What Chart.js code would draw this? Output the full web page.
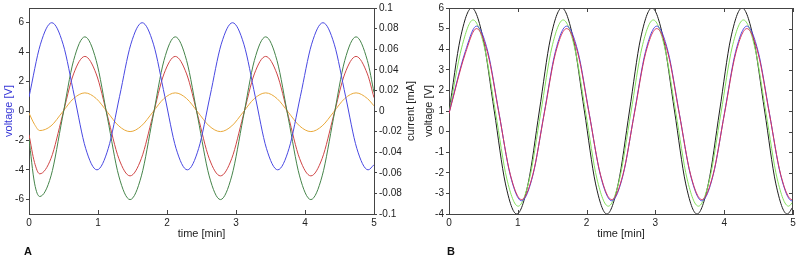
<!DOCTYPE html>
<html>
<head>
<meta charset="utf-8">
<script src="https://cdn.jsdelivr.net/npm/chart.js@4.4.1/dist/chart.umd.min.js"></script>
<style>
  html, body { margin: 0; padding: 0; background: #fff; }
  #wrap { position: relative; width: 800px; height: 259px; overflow: hidden; }
  canvas { position: absolute; top: 0; }
  #chartA { left: 0; }
  #chartB { left: 420px; }
  .panel-tag { position: absolute; top: 245px; font: bold 11px "Liberation Sans", Arial, sans-serif; color: #111; }
</style>
</head>
<body>
<div id="wrap">
  <canvas id="chartA" width="420" height="259"></canvas>
  <canvas id="chartB" width="380" height="259"></canvas>
  <div class="panel-tag" style="left:24px">A</div>
  <div class="panel-tag" style="left:447px">B</div>
</div>
<script>
// tick values
const xTicks = [0, 1, 2, 3, 4, 5];
const voltTicksA = [-6, -4, -2, 0, 2, 4, 6];
const currentTicksA = [-0.1, -0.08, -0.06, -0.04, -0.02, 0, 0.02, 0.04, 0.06, 0.08, 0.1];
const voltTicksB = [-4, -3, -2, -1, 0, 1, 2, 3, 4, 5, 6];

// applied voltage (blue in A, black in B)
const voltTime = [0, 0.166, 0.33, 0.494, 0.658, 0.821, 0.985, 1.149, 1.313, 1.476, 1.64, 1.804, 1.968, 2.131, 2.295, 2.459,
  2.623, 2.786, 2.95, 3.114, 3.278, 3.441, 3.605, 3.769, 3.933, 4.096, 4.26, 4.424, 4.588, 4.751, 4.915, 5];
const voltage = [0.95, 4.54, 6, 4.54, 1, -2.54, -4, -2.54, 1, 4.54, 6, 4.54, 1, -2.54, -4, -2.54,
  1, 4.54, 6, 4.54, 1, -2.54, -4, -2.54, 1, 4.54, 6, 4.54, 1, -2.54, -4, -3.65];

// currents in A [mA]
const currentTimeA = [0, 0.08, 0.155, 0.319, 0.483, 0.646, 0.81, 0.974, 1.138, 1.301, 1.465, 1.629, 1.793, 1.956, 2.12, 2.284,
  2.448, 2.611, 2.775, 2.939, 3.103, 3.266, 3.43, 3.594, 3.758, 3.921, 4.085, 4.249, 4.413, 4.576, 4.74, 4.904, 5];
const currentGreenA = [-0.027, -0.070, -0.083, -0.063, -0.007, 0.049, 0.072, 0.049, -0.007, -0.063, -0.086, -0.063, -0.007, 0.049, 0.072, 0.049,
  -0.007, -0.063, -0.086, -0.063, -0.007, 0.049, 0.072, 0.049, -0.007, -0.063, -0.086, -0.063, -0.007, 0.049, 0.072, 0.049, 0.018];
const currentRedA = [-0.023, -0.050, -0.061, -0.046, -0.005, 0.036, 0.053, 0.036, -0.005, -0.046, -0.063, -0.046, -0.005, 0.036, 0.053, 0.036,
  -0.005, -0.046, -0.063, -0.046, -0.005, 0.036, 0.053, 0.036, -0.005, -0.046, -0.063, -0.046, -0.005, 0.036, 0.053, 0.036, 0.013];
const currentOrangeA = [-0.002, -0.013, -0.019, -0.0145, -0.0012, 0.0121, 0.0176, 0.0121, -0.0012, -0.0145, -0.020, -0.0145, -0.0012, 0.0121, 0.0176, 0.0121,
  -0.0012, -0.0145, -0.020, -0.0145, -0.0012, 0.0121, 0.0176, 0.0121, -0.0012, -0.0145, -0.020, -0.0145, -0.0012, 0.0121, 0.0176, 0.0121, 0.005];

// voltages in B
const timeGreenB = [0, 0.186, 0.35, 0.514, 0.678, 0.841, 1.005, 1.169, 1.333, 1.496, 1.66, 1.824, 1.988, 2.151, 2.315, 2.479,
  2.643, 2.806, 2.97, 3.134, 3.298, 3.461, 3.625, 3.789, 3.953, 4.116, 4.28, 4.444, 4.608, 4.771, 4.935, 5];
const greenB = [0.9, 4.10, 5.42, 4.10, 0.9, -2.30, -3.62, -2.30, 0.9, 4.10, 5.42, 4.10, 0.9, -2.30, -3.62, -2.30,
  0.9, 4.10, 5.42, 4.10, 0.9, -2.30, -3.62, -2.30, 0.9, 4.10, 5.42, 4.10, 0.9, -2.30, -3.62, -3.40];
const timeBlueRedB = [0, 0.236, 0.40, 0.564, 0.728, 0.891, 1.055, 1.219, 1.383, 1.546, 1.71, 1.874, 2.038, 2.201, 2.365, 2.529,
  2.693, 2.856, 3.02, 3.184, 3.348, 3.511, 3.675, 3.839, 4.003, 4.166, 4.33, 4.494, 4.658, 4.821, 4.985, 5];
const blueB = [0.9, 3.88, 5.12, 3.88, 0.88, -2.12, -3.36, -2.12, 0.88, 3.88, 5.12, 3.88, 0.88, -2.12, -3.36, -2.12,
  0.88, 3.88, 5.12, 3.88, 0.88, -2.12, -3.36, -2.12, 0.88, 3.88, 5.12, 3.88, 0.88, -2.12, -3.36, -3.35];
const redB = [0.88, 3.78, 5.0, 3.78, 0.85, -2.08, -3.30, -2.08, 0.85, 3.78, 5.0, 3.78, 0.85, -2.08, -3.30, -2.08,
  0.85, 3.78, 5.0, 3.78, 0.85, -2.08, -3.30, -2.08, 0.85, 3.78, 5.0, 3.78, 0.85, -2.08, -3.30, -3.29];

const FONT = '"Liberation Sans", Arial, sans-serif';
const AXIS = '#444';
Chart.defaults.font.family = FONT;
Chart.defaults.color = '#222';

function toPoints(xs, ys) {
  return xs.map((x, i) => ({ x: x, y: ys[i] }));
}
function setTicks(values) {
  return (scale) => { scale.ticks = values.map((v) => ({ value: v })); };
}
function line(label, xs, ys, color, axis) {
  return {
    label: label,
    data: toPoints(xs, ys),
    borderColor: color,
    borderWidth: 1,
    pointRadius: 0,
    fill: false,
    cubicInterpolationMode: 'monotone',
    yAxisID: axis || 'y'
  };
}

// box edges, inward ticks and the bottom-up right title
const frameTicks = {
  id: 'frameTicks',
  afterDraw(chart, args, opts) {
    const { ctx, chartArea: a, scales } = chart;
    ctx.save();
    ctx.strokeStyle = AXIS;
    ctx.lineWidth = 1;
    ctx.beginPath();
    ctx.moveTo(a.left, a.top + 0.5);
    ctx.lineTo(a.right, a.top + 0.5);
    scales.x.ticks.forEach((t) => {
      const px = Math.round(scales.x.getPixelForValue(t.value)) + 0.5;
      ctx.moveTo(px, a.bottom);
      ctx.lineTo(px, a.bottom - 4);
      if (opts.box) {
        ctx.moveTo(px, a.top);
        ctx.lineTo(px, a.top + 4);
      }
    });
    if (opts.box) {
      ctx.moveTo(a.right - 0.5, a.top);
      ctx.lineTo(a.right - 0.5, a.bottom);
      scales.y.ticks.forEach((t) => {
        const py = Math.round(scales.y.getPixelForValue(t.value)) + 0.5;
        ctx.moveTo(a.right, py);
        ctx.lineTo(a.right - 4, py);
      });
    }
    ctx.stroke();
    if (opts.rightTitle) {
      ctx.fillStyle = '#222';
      ctx.font = '11px ' + FONT;
      ctx.textAlign = 'center';
      ctx.textBaseline = 'middle';
      ctx.translate(a.right + 37, (a.top + a.bottom) / 2);
      ctx.rotate(-Math.PI / 2);
      ctx.fillText(opts.rightTitle, 0, 0);
    }
    ctx.restore();
  }
};

function xAxis() {
  return {
    type: 'linear',
    min: 0,
    max: 5,
    afterBuildTicks: setTicks(xTicks),
    afterFit: (s) => { s.height = 30; },
    grid: { display: false, drawTicks: false },
    border: { display: true, color: AXIS },
    ticks: { padding: 3, font: { size: 10 }, color: '#222' },
    title: { display: true, text: 'time [min]', padding: { top: 0, bottom: 3 }, font: { size: 11 }, color: '#222' }
  };
}
function yAxis(min, max, values, width, position) {
  return {
    type: 'linear',
    position: position,
    min: min,
    max: max,
    afterBuildTicks: setTicks(values),
    afterFit: (s) => { s.width = width; },
    grid: { display: true, drawOnChartArea: false, drawTicks: true, tickLength: 3, color: AXIS },
    border: { display: true, color: AXIS },
    ticks: {
      padding: 2,
      font: { size: 10 },
      color: '#222',
      callback: (v) => String(Math.round(v * 100) / 100)
    }
  };
}

const yA = yAxis(-7, 7, voltTicksA, 29, 'left');
yA.title = { display: true, text: 'voltage [V]', color: '#3434d6', font: { size: 11 }, padding: { top: 2, bottom: 0 } };
const y1A = yAxis(-0.1, 0.1, currentTicksA, 46, 'right');

new Chart(document.getElementById('chartA'), {
  type: 'line',
  data: {
    datasets: [
      line('voltage', voltTime, voltage, '#4848e2'),
      line('current 1', currentTimeA, currentGreenA, '#45844a', 'y1'),
      line('current 2', currentTimeA, currentRedA, '#cf4646', 'y1'),
      line('current 3', currentTimeA, currentOrangeA, '#e9a93a', 'y1')
    ]
  },
  options: {
    responsive: false,
    animation: false,
    devicePixelRatio: 1,
    layout: { padding: { top: 7, bottom: 15, left: 0, right: 0 } },
    plugins: {
      legend: { display: false },
      tooltip: { enabled: false },
      frameTicks: { box: false, rightTitle: 'current [mA]' }
    },
    scales: { x: xAxis(), y: yA, y1: y1A }
  },
  plugins: [frameTicks]
});

const yB = yAxis(-4, 6, voltTicksB, 29, 'left');
yB.title = { display: true, text: 'voltage [V]', color: '#222', font: { size: 11 }, padding: { top: 2, bottom: 0 } };

new Chart(document.getElementById('chartB'), {
  type: 'line',
  data: {
    datasets: [
      line('red', timeBlueRedB, redB, '#d4345e'),
      line('blue', timeBlueRedB, blueB, '#4a4ae6'),
      line('green', timeGreenB, greenB, '#84e05e'),
      line('applied', voltTime, voltage, '#1e1e1e')
    ]
  },
  options: {
    responsive: false,
    animation: false,
    devicePixelRatio: 1,
    layout: { padding: { top: 7, bottom: 15, left: 0, right: 7 } },
    plugins: {
      legend: { display: false },
      tooltip: { enabled: false },
      frameTicks: { box: true }
    },
    scales: { x: xAxis(), y: yB }
  },
  plugins: [frameTicks]
});
</script>
</body>
</html>
